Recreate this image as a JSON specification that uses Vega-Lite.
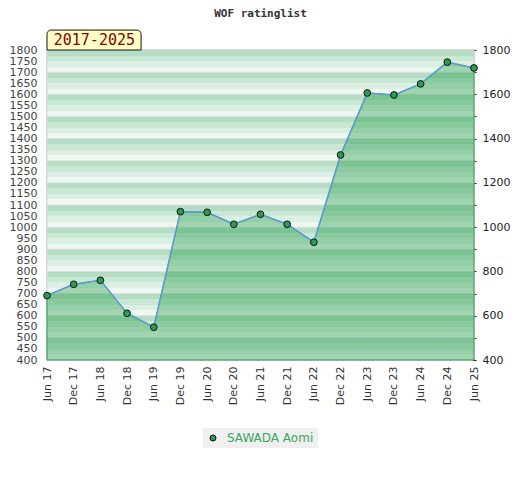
{
  "$schema": "https://vega.github.io/schema/vega-lite/v6.json",
  "width": 427,
  "height": 310,
  "autosize": "none",
  "padding": {"left": 47, "top": 50, "right": 46, "bottom": 120},
  "background": "white",
  "title": {
    "text": "WOF ratinglist",
    "font": "DejaVu Sans Mono",
    "fontSize": 11,
    "fontWeight": "bold",
    "color": "#333333",
    "offset": 11
  },
  "datasets": {
    "rating": [
      {"period": "Jun 17", "rating": 691, "player": "SAWADA Aomi"},
      {"period": "Dec 17", "rating": 742, "player": "SAWADA Aomi"},
      {"period": "Jun 18", "rating": 760, "player": "SAWADA Aomi"},
      {"period": "Dec 18", "rating": 611, "player": "SAWADA Aomi"},
      {"period": "Jun 19", "rating": 548, "player": "SAWADA Aomi"},
      {"period": "Dec 19", "rating": 1070, "player": "SAWADA Aomi"},
      {"period": "Jun 20", "rating": 1067, "player": "SAWADA Aomi"},
      {"period": "Dec 20", "rating": 1013, "player": "SAWADA Aomi"},
      {"period": "Jun 21", "rating": 1058, "player": "SAWADA Aomi"},
      {"period": "Dec 21", "rating": 1013, "player": "SAWADA Aomi"},
      {"period": "Jun 22", "rating": 932, "player": "SAWADA Aomi"},
      {"period": "Dec 22", "rating": 1326, "player": "SAWADA Aomi"},
      {"period": "Jun 23", "rating": 1606, "player": "SAWADA Aomi"},
      {"period": "Dec 23", "rating": 1597, "player": "SAWADA Aomi"},
      {"period": "Jun 24", "rating": 1647, "player": "SAWADA Aomi"},
      {"period": "Dec 24", "rating": 1745, "player": "SAWADA Aomi"},
      {"period": "Jun 25", "rating": 1719, "player": "SAWADA Aomi"}
    ],
    "bands": [
      {"lo": 400, "hi": 500}, {"lo": 500, "hi": 600}, {"lo": 600, "hi": 700},
      {"lo": 700, "hi": 800}, {"lo": 800, "hi": 900}, {"lo": 900, "hi": 1000},
      {"lo": 1000, "hi": 1100}, {"lo": 1100, "hi": 1200}, {"lo": 1200, "hi": 1300},
      {"lo": 1300, "hi": 1400}, {"lo": 1400, "hi": 1500}, {"lo": 1500, "hi": 1600},
      {"lo": 1600, "hi": 1700}, {"lo": 1700, "hi": 1800}
    ]
  },
  "resolve": {"axis": {"y": "independent"}},
  "layer": [
    {
      "data": {"name": "bands"},
      "mark": {
        "type": "rect",
        "stroke": "#dadada",
        "strokeWidth": 0.8,
        "fill": {
          "gradient": "linear",
          "x1": 0, "y1": 0, "x2": 0, "y2": 1,
          "stops": [
            {"offset": 0, "color": "#b4ddc4"},
            {"offset": 0.25, "color": "#b4ddc4"},
            {"offset": 0.25, "color": "#c9e7d5"},
            {"offset": 0.5, "color": "#c9e7d5"},
            {"offset": 0.5, "color": "#dbefe3"},
            {"offset": 0.75, "color": "#dbefe3"},
            {"offset": 0.75, "color": "#eef7f1"},
            {"offset": 1, "color": "#eef7f1"}
          ]
        }
      },
      "encoding": {
        "y": {
          "field": "hi",
          "type": "quantitative",
          "scale": {"domain": [400, 1800], "nice": false, "zero": false},
          "axis": {
            "orient": "left",
            "values": [400, 450, 500, 550, 600, 650, 700, 750, 800, 850, 900, 950, 1000, 1050, 1100, 1150, 1200, 1250, 1300, 1350, 1400, 1450, 1500, 1550, 1600, 1650, 1700, 1750, 1800],
            "format": "d",
            "title": null,
            "ticks": false,
            "domain": false,
            "grid": false,
            "labelFont": "DejaVu Sans",
            "labelFontSize": 11,
            "labelColor": "#444444",
            "labelPadding": 10,
            "labelOverlap": false
          }
        },
        "y2": {"field": "lo"}
      }
    },
    {
      "data": {"name": "rating"},
      "mark": {
        "type": "area",
        "color": "#008b27",
        "fillOpacity": 0.32,
        "stroke": "#3c9a56",
        "strokeWidth": 1
      },
      "encoding": {
        "x": {
          "field": "period",
          "type": "nominal",
          "sort": null,
          "scale": {
            "type": "point",
            "padding": 0,
            "domain": ["Jun 17", "Dec 17", "Jun 18", "Dec 18", "Jun 19", "Dec 19", "Jun 20", "Dec 20", "Jun 21", "Dec 21", "Jun 22", "Dec 22", "Jun 23", "Dec 23", "Jun 24", "Dec 24", "Jun 25"]
          },
          "axis": {
            "title": null,
            "labelAngle": 270,
            "ticks": false,
            "domain": false,
            "grid": false,
            "labelFont": "DejaVu Sans",
            "labelFontSize": 11,
            "labelColor": "#333333",
            "labelPadding": 6,
            "labelOverlap": false
          }
        },
        "y": {"field": "rating", "type": "quantitative", "axis": null},
        "y2": {"datum": 400}
      }
    },
    {
      "data": {"name": "rating"},
      "mark": {"type": "line", "color": "#5b9bd5", "strokeWidth": 1.5},
      "encoding": {
        "x": {"field": "period", "type": "nominal", "sort": null},
        "y": {
          "field": "rating",
          "type": "quantitative",
          "axis": {
            "orient": "right",
            "values": [400, 500, 600, 700, 800, 900, 1000, 1100, 1200, 1300, 1400, 1500, 1600, 1700, 1800],
            "format": "d",
            "labelExpr": "datum.value % 200 == 0 ? datum.label : ''",
            "title": null,
            "domain": false,
            "grid": false,
            "offset": -2,
            "tickSize": 4,
            "tickColor": "#222222",
            "labelFont": "DejaVu Sans",
            "labelFontSize": 11,
            "labelColor": "#222222",
            "labelPadding": 6
          }
        }
      }
    },
    {
      "data": {"name": "rating"},
      "mark": {"type": "point", "shape": "circle", "filled": true, "size": 45, "stroke": "#111111", "strokeWidth": 1, "opacity": 1},
      "encoding": {
        "x": {"field": "period", "type": "nominal", "sort": null},
        "y": {"field": "rating", "type": "quantitative", "axis": null},
        "fill": {
          "field": "player",
          "type": "nominal",
          "scale": {"range": ["#2e9b54"]},
          "legend": {
            "title": null,
            "orient": "none",
            "legendX": 156,
            "legendY": 378,
            "direction": "horizontal",
            "fillColor": "#f0f0f0",
            "padding": 4,
            "symbolType": "circle",
            "symbolSize": 36,
            "symbolStrokeColor": "#111111",
            "symbolStrokeWidth": 1,
            "labelFont": "DejaVu Sans",
            "labelFontSize": 12,
            "labelColor": "#3da35d",
            "labelOffset": 8
          }
        }
      }
    },
    {
      "data": {"values": [{}]},
      "mark": {
        "type": "rect",
        "fill": "#ffffc6",
        "stroke": "#111111",
        "strokeWidth": 1,
        "cornerRadiusTopLeft": 4,
        "cornerRadiusTopRight": 4,
        "x2Offset": 14
      },
      "encoding": {
        "x": {"datum": "Jun 17", "type": "nominal"},
        "x2": {"datum": "Dec 18"},
        "y": {"datum": 1800, "type": "quantitative", "axis": null},
        "y2": {"datum": 1890}
      }
    },
    {
      "data": {"values": [{}]},
      "mark": {
        "type": "text",
        "text": "2017-2025",
        "font": "DejaVu Sans Mono",
        "fontSize": 15,
        "color": "#8b0000",
        "align": "center",
        "baseline": "middle",
        "dx": -6
      },
      "encoding": {
        "x": {"datum": "Jun 18", "type": "nominal"},
        "y": {"datum": 1843, "type": "quantitative", "axis": null}
      }
    }
  ],
  "config": {
    "view": {"stroke": "#d4d4d4", "strokeWidth": 2},
    "axis": {"labelOverlap": false}
  }
}
